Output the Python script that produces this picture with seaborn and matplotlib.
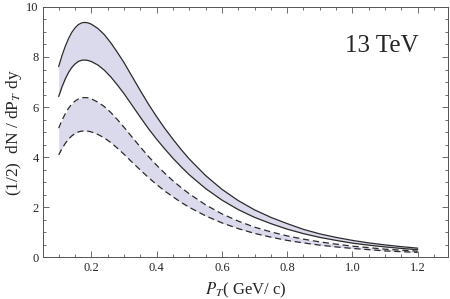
"""Transverse momentum spectrum band at 13 TeV."""
import matplotlib
matplotlib.use("Agg")
import matplotlib.pyplot as plt
import pandas as pd
import seaborn as sns
from matplotlib.ticker import MultipleLocator

pt = [0.1, 0.11, 0.12, 0.13, 0.14, 0.15, 0.16, 0.17, 0.18, 0.19, 0.2,
      0.22, 0.24, 0.26, 0.28, 0.3, 0.325, 0.35, 0.375, 0.4, 0.425, 0.45,
      0.475, 0.5, 0.55, 0.6, 0.65, 0.7, 0.75, 0.8, 0.85, 0.9, 0.95, 1.0,
      1.05, 1.1, 1.15, 1.2]

# solid band (upper / lower edge)
solid_hi = [7.62, 8.05, 8.42, 8.73, 8.98, 9.16, 9.29, 9.36, 9.38, 9.36, 9.31,
            9.14, 8.89, 8.56, 8.18, 7.78, 7.22, 6.66, 6.12, 5.62, 5.15, 4.72,
            4.31, 3.93, 3.27, 2.72, 2.27, 1.90, 1.60, 1.35, 1.12, 0.94, 0.80, 0.68,
            0.58, 0.50, 0.43, 0.37]
solid_lo = [6.42, 6.80, 7.12, 7.38, 7.58, 7.72, 7.82, 7.87, 7.88, 7.86, 7.82,
            7.68, 7.47, 7.20, 6.88, 6.54, 6.07, 5.60, 5.14, 4.72, 4.33, 3.96,
            3.62, 3.30, 2.75, 2.29, 1.91, 1.60, 1.35, 1.13, 0.95, 0.80, 0.68, 0.57,
            0.49, 0.42, 0.36, 0.31]

# dashed band (upper / lower edge)
dash_hi = [5.16, 5.47, 5.73, 5.95, 6.12, 6.24, 6.32, 6.37, 6.38, 6.37, 6.33,
           6.20, 6.02, 5.78, 5.50, 5.20, 4.80, 4.41, 4.03, 3.68, 3.36, 3.06,
           2.79, 2.54, 2.10, 1.74, 1.45, 1.21, 1.02, 0.86, 0.73, 0.62, 0.53, 0.45,
           0.39, 0.33, 0.29, 0.25]
dash_lo = [4.09, 4.34, 4.55, 4.72, 4.85, 4.95, 5.01, 5.04, 5.05, 5.04, 5.01,
           4.91, 4.77, 4.58, 4.36, 4.12, 3.80, 3.49, 3.19, 2.91, 2.65, 2.42,
           2.20, 2.00, 1.66, 1.38, 1.15, 0.96, 0.81, 0.68, 0.58, 0.49, 0.42, 0.36,
           0.31, 0.26, 0.23, 0.20]

df = pd.DataFrame({"pt": pt, "solid_hi": solid_hi, "solid_lo": solid_lo,
                   "dash_hi": dash_hi, "dash_lo": dash_lo})

sns.set_theme(style="ticks")
plt.rcParams["font.family"] = ["Liberation Serif", "DejaVu Serif"]
plt.rcParams["mathtext.fontset"] = "stix"

fill_color = "#dadaec"
line_color = "#2b2b2b"

fig = plt.figure(figsize=(4.5, 2.99), dpi=100)
ax = fig.add_axes([0.0956, 0.139, 0.8994, 0.838])

ax.fill_between(df["pt"], df["solid_lo"], df["solid_hi"], color=fill_color, lw=0)
ax.fill_between(df["pt"], df["dash_lo"], df["dash_hi"], color=fill_color, lw=0)

for col in ["solid_hi", "solid_lo"]:
    sns.lineplot(data=df, x="pt", y=col, ax=ax, color=line_color, lw=0.9)
for col in ["dash_hi", "dash_lo"]:
    line = sns.lineplot(data=df, x="pt", y=col, ax=ax, color=line_color, lw=0.9).lines[-1]
    line.set_dashes((5, 3))

ax.set_xlim(0.052, 1.292)
ax.set_ylim(0, 10)
ax.xaxis.set_major_locator(MultipleLocator(0.2))
ax.xaxis.set_minor_locator(MultipleLocator(0.05))
ax.yaxis.set_major_locator(MultipleLocator(2))
ax.yaxis.set_minor_locator(MultipleLocator(0.5))
ax.tick_params(which="both", direction="in", top=True, right=True,
               color="#555555", labelsize=9, pad=3)
ax.tick_params(which="major", length=4, width=0.6)
ax.tick_params(which="minor", length=2, width=0.6)
for s in ax.spines.values():
    s.set_color("#555555")
    s.set_linewidth(0.7)

ax.set_xticks([0.2, 0.4, 0.6, 0.8, 1.0, 1.2])
ax.set_xticklabels(["0.2", "0.4", "0.6", "0.8", "1.0", "1.2"])
ax.set_xlabel(r"$P_T$( GeV/ c)", fontsize=12, labelpad=5)
ax.set_ylabel(r"(1/2)  dN / dP$_T$ dy", fontsize=12.5, labelpad=2)

ax.text(0.837, 0.845, "13 TeV", transform=ax.transAxes, fontsize=18,
        ha="center", va="center")

fig.savefig("out.png", dpi=100)
